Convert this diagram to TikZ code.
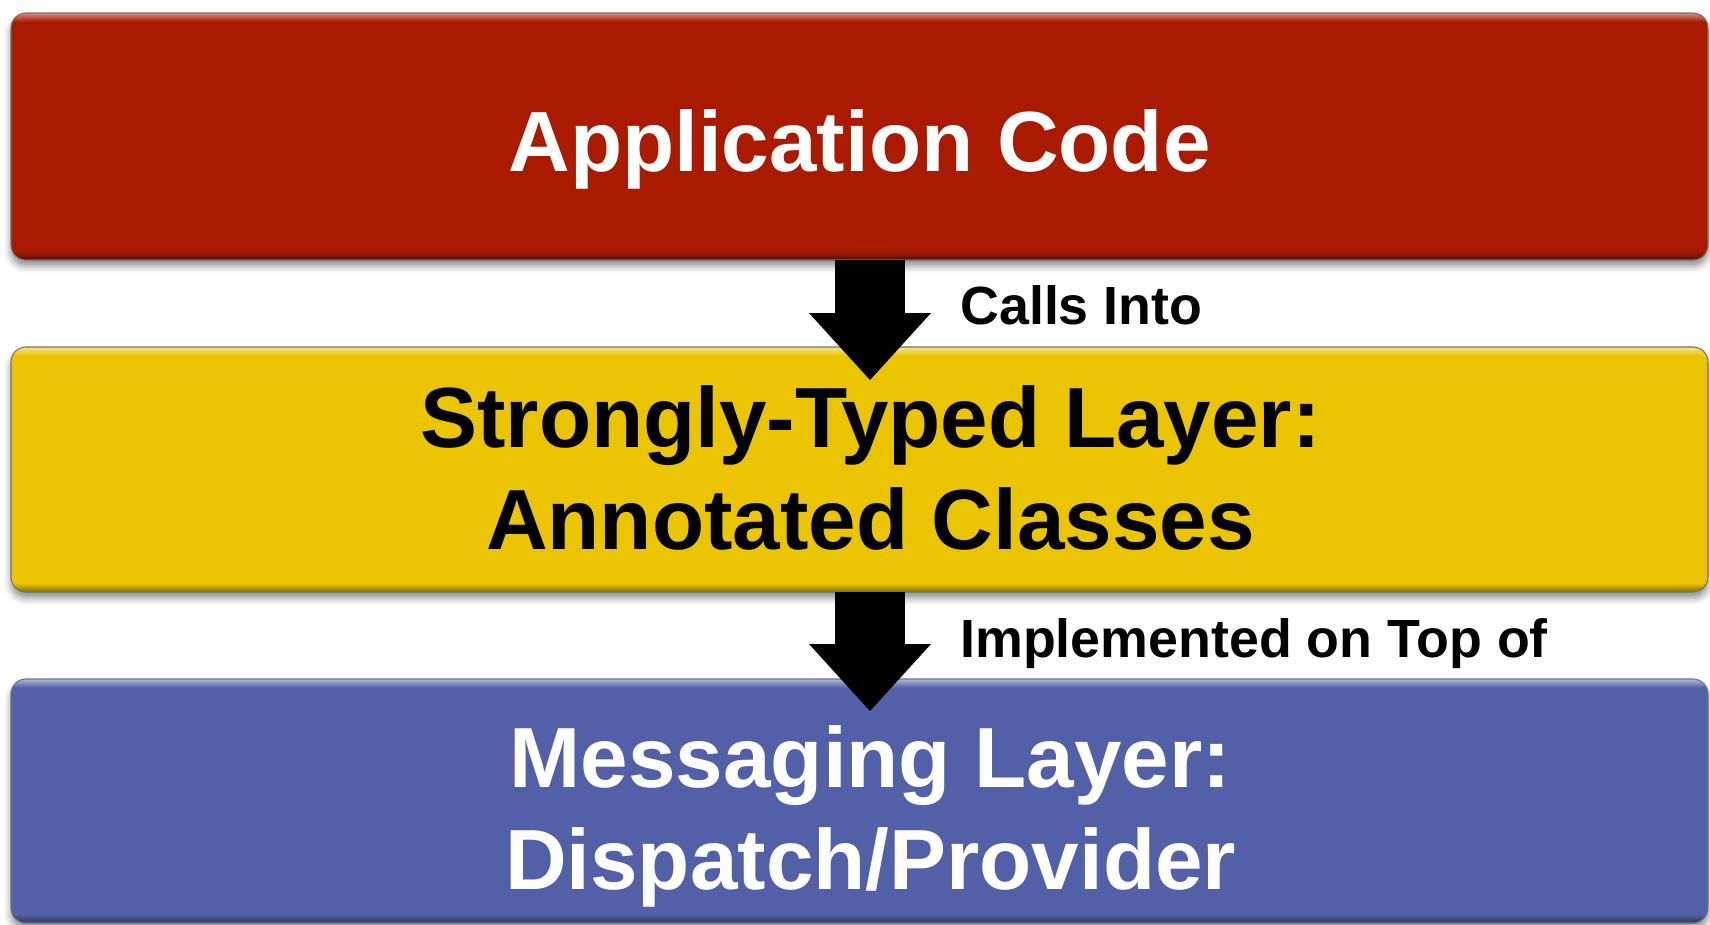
\documentclass[tikz,border=0pt]{standalone}
\usepackage{fontspec}
\setmainfont{Liberation Sans}
\usepackage{tikz}
\usetikzlibrary{positioning}
\usetikzlibrary{calc}
\usetikzlibrary{arrows.meta}
\usetikzlibrary{shadows.blur}

\definecolor{appred}{RGB}{170,26,0}
\definecolor{typedyellow}{RGB}{235,196,0}
\definecolor{msgblue}{RGB}{82,96,168}
\colorlet{appredlo}{appred!50!black}
\colorlet{appredhi}{appred!50!white}
\colorlet{typedyellowlo}{typedyellow!55!black}
\colorlet{typedyellowhi}{typedyellow!45!white}
\colorlet{msgbluelo}{msgblue!55!black}
\colorlet{msgbluehi}{msgblue!45!white}

% bevel: dark band at the bottom, light band at the top
\pgfdeclareverticalshading{redbevel}{100bp}{color(0bp)=(appredlo); color(25bp)=(appredlo); color(26.8bp)=(appred); color(73.2bp)=(appred); color(75bp)=(appredhi); color(100bp)=(appredhi)}
\pgfdeclareverticalshading{yellowbevel}{100bp}{color(0bp)=(typedyellowlo); color(25bp)=(typedyellowlo); color(26.8bp)=(typedyellow); color(73.2bp)=(typedyellow); color(75bp)=(typedyellowhi); color(100bp)=(typedyellowhi)}
\pgfdeclareverticalshading{bluebevel}{100bp}{color(0bp)=(msgbluelo); color(25bp)=(msgbluelo); color(26.8bp)=(msgblue); color(73.2bp)=(msgblue); color(75bp)=(msgbluehi); color(100bp)=(msgbluehi)}

\newcommand{\indentline}{\hspace*{0.44cm}}

\tikzset{
  layer/.style={rectangle, rounded corners=0.3cm, draw=black!55, line width=0.6pt,
    minimum width=33.94cm, inner sep=0pt, outer sep=0pt, align=center, shade, text depth=0pt,
    font=\bfseries\fontsize{48.6}{58}\selectfont,
    blur shadow={shadow xshift=0pt, shadow yshift=-0.12cm, shadow blur radius=0.14cm, shadow opacity=45}},
  linklabel/.style={font=\bfseries\fontsize{30.6}{36}\selectfont, inner sep=0pt, anchor=base west},
  bigarrow/.style={line width=1.4cm, -{Triangle[width=2.44cm, length=1.34cm, line width=0pt]}},
}

\begin{document}
\begin{tikzpicture}
  \useasboundingbox (0,0) rectangle (34.2,-18.5);

  % the three layers
  \node[layer, shading=redbevel, text=white, text height=1.38cm, minimum height=4.94cm] (app) at (17.19,-2.73) {Application Code};
  \node[layer, shading=yellowbevel, text=black, text height=3.18cm, minimum height=4.9cm, below=1.74cm of app] (typed) {\indentline Strongly-Typed Layer:\\\indentline Annotated Classes};
  \node[layer, shading=bluebevel, text=white, text height=3.52cm, minimum height=4.88cm, below=1.74cm of typed] (msg) {\indentline Messaging Layer:\\\indentline Dispatch/Provider};

  % arrows between them
  \coordinate (tip1) at ($(typed.north)+(0.21,-0.66)$);
  \coordinate (tip2) at ($(msg.north)+(0.21,-0.64)$);
  \draw[bigarrow] ($(app.south)+(0.21,0)$) -- (tip1);
  \draw[bigarrow] ($(typed.south)+(0.21,0)$) -- (tip2);

  \node[linklabel] (calls) at ($(app.south)+(2.01,-1.28)$) {Calls Into};
  \node[linklabel] (impl) at ($(typed.south)+(2.01,-1.31)$) {Implemented on Top of};
\end{tikzpicture}
\end{document}
